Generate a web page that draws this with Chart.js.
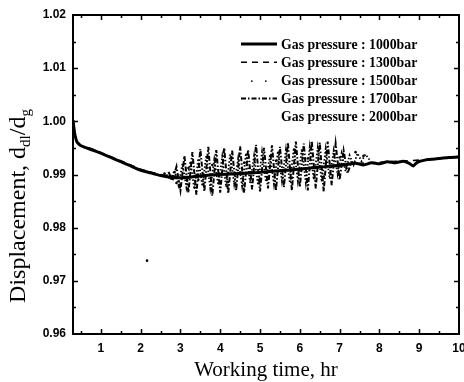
<!DOCTYPE html>
<html><head><meta charset="utf-8">
<script src="https://cdn.jsdelivr.net/npm/chart.js@4.4.1/dist/chart.umd.min.js"></script>
<style>html,body{margin:0;padding:0;background:#fff;}canvas{display:block;}</style>
</head><body>
<canvas id="c" width="464" height="382"></canvas>
<script>
// ---- data ----
const seriesLabels = ['Gas pressure : 1000bar','Gas pressure : 1300bar','Gas pressure : 1500bar','Gas pressure : 1700bar','Gas pressure : 2000bar'];

const x1000 = [0.30,0.32,0.34,0.37,0.40,0.45,0.5,0.6,0.75,0.9,1.0,1.25,1.5,1.75,2.0,2.25,2.5,2.75,3.0,3.25,3.5,3.75,4.0,4.5,5.0,5.5,6.0,6.5,7.0,7.4,7.6,7.8,8.0,8.2,8.4,8.6,8.75,8.85,8.95,9.2,9.4,9.6,9.8,10.0];
const y1000 = [1.0002,0.9990,0.9978,0.9968,0.9961,0.9957,0.9954,0.9951,0.9947,0.9943,0.9940,0.9932,0.9924,0.9916,0.9908,0.9903,0.9898,0.9895,0.9894,0.9895,0.9897,0.9899,0.9900,0.9902,0.9904,0.9907,0.9910,0.9914,0.9917,0.9921,0.9918,0.9922,0.9920,0.9924,0.9922,0.9925,0.9921,0.9916,0.9923,0.9928,0.9929,0.9931,0.9932,0.9933];

const x1300 = [0.30,0.33,0.36,0.40,0.5,0.75,1.0,1.5,2.0,2.5,2.8,3.2,3.6,4.0,4.5,5.0,5.5,6.0,6.5,7.0,7.5,8.0,8.5,9.0,9.5,10.0];
const y1300 = [0.9998,0.9984,0.9972,0.9962,0.9955,0.9949,0.9941,0.9926,0.9910,0.9900,0.9897,0.9896,0.9898,0.9901,0.9903,0.9905,0.9908,0.9911,0.9915,0.9918,0.9921,0.9923,0.9925,0.9927,0.9930,0.9934];

const x1500 = [2.65,2.75,2.85,2.95,3.05,3.15,3.25,3.35,3.45,3.55,3.65,3.75,3.85,3.95,4.05,4.15,4.25,4.35,4.45,4.55,4.65,4.75,4.85,4.95,5.05,5.15,5.25,5.35,5.45,5.55,5.65,5.75,5.85,5.95,6.05,6.15,6.25,6.35,6.45,6.55,6.65,6.75,6.85,6.95,7.05,7.15,7.25,7.35,7.45,7.55,7.65,7.75];
const y1500 = [0.9900,0.9890,0.9908,0.9880,0.9920,0.9876,0.9925,0.9872,0.9930,0.9878,0.9936,0.9874,0.9928,0.9880,0.9934,0.9876,0.9938,0.9882,0.9930,0.9878,0.9940,0.9884,0.9935,0.9880,0.9942,0.9886,0.9938,0.9882,0.9944,0.9888,0.9946,0.9884,0.9950,0.9888,0.9948,0.9885,0.9952,0.9890,0.9950,0.9886,0.9948,0.9892,0.9945,0.9900,0.9940,0.9906,0.9936,0.9918,0.9940,0.9925,0.9938,0.9928];

const x1700 = [2.7,2.8,2.9,3.0,3.1,3.2,3.3,3.4,3.5,3.6,3.7,3.8,3.9,4.0,4.1,4.2,4.3,4.4,4.5,4.6,4.7,4.8,4.9,5.0,5.1,5.2,5.3,5.4,5.5,5.6,5.7,5.8,5.9,6.0,6.1,6.2,6.3,6.4,6.5,6.6,6.7,6.8,6.9,7.0,7.1,7.2,7.3];
const y1700 = [0.9905,0.9888,0.9915,0.9870,0.9935,0.9866,0.9942,0.9862,0.9948,0.9868,0.9952,0.9860,0.9946,0.9866,0.9950,0.9864,0.9945,0.9870,0.9953,0.9866,0.9947,0.9872,0.9956,0.9868,0.9950,0.9874,0.9955,0.9870,0.9952,0.9876,0.9960,0.9870,0.9962,0.9876,0.9958,0.9870,0.9963,0.9874,0.9960,0.9868,0.9962,0.9880,0.9958,0.9890,0.9945,0.9902,0.9925];

const x2000 = [2.6,2.9,3.2,3.45,3.8,4.2,4.6,5.0,5.4,5.8,6.2,6.6,7.0,7.4,7.6,2.16];
const y2000 = [0.9902,0.9884,0.9912,0.9890,0.9918,0.9886,0.9922,0.9892,0.9926,0.9894,0.9930,0.9896,0.9932,0.9942,0.9935,0.9738];

const xTickLabels = [1,2,3,4,5,6,7,8,9,10];
const yTickLabels = [0.96,0.97,0.98,0.99,1.00,1.01,1.02];
const xTickMarks = [0.5,1,1.5,2,2.5,3,3.5,4,4.5,5,5.5,6,6.5,7,7.5,8,8.5,9,9.5];
const yTickMarks = [0.965,0.97,0.975,0.98,0.985,0.99,0.995,1.00,1.005,1.01,1.015];

const xTitle = 'Working time, hr';
const yTitleParts = [['Displacement, d', false], ['dl', true], ['/d', false], ['g', true]];

const pts = (xs, ys) => xs.map((v, i) => ({x: v, y: ys[i]}));

const serif = "'Liberation Serif', 'Times New Roman', serif";
const sans = "'Liberation Sans', Arial, sans-serif";

const framePlugin = {
  id: 'frame',
  afterDatasetsDraw(chart) {
    const {ctx, chartArea: a, scales: {x, y}} = chart;
    ctx.save();
    ctx.strokeStyle = '#000';
    ctx.lineWidth = 2;
    ctx.strokeRect(a.left, a.top, a.right - a.left, a.bottom - a.top);
    ctx.lineWidth = 1.5;
    ctx.beginPath();
    xTickMarks.forEach(v => {
      const px = Math.round(x.getPixelForValue(v)) + 0.5;
      const len = Number.isInteger(v) ? 5 : 3;
      ctx.moveTo(px, a.bottom); ctx.lineTo(px, a.bottom - len);
      ctx.moveTo(px, a.top); ctx.lineTo(px, a.top + len);
    });
    yTickMarks.forEach(v => {
      const py = Math.round(y.getPixelForValue(v)) + 0.5;
      const major = Math.abs(v * 100 - Math.round(v * 100)) < 1e-6;
      const len = major ? 5 : 3;
      ctx.moveTo(a.left, py); ctx.lineTo(a.left + len, py);
      ctx.moveTo(a.right, py); ctx.lineTo(a.right - len, py);
    });
    ctx.stroke();
    ctx.restore();
  }
};

const titlePlugin = {
  id: 'titles',
  afterDraw(chart) {
    const {ctx, chartArea: a} = chart;
    ctx.save();
    ctx.fillStyle = '#000';
    ctx.textBaseline = 'alphabetic';
    // x title
    ctx.font = `21px ${serif}`;
    ctx.textAlign = 'center';
    ctx.fillText(xTitle, (a.left + a.right) / 2, 376);
    // y title with subscripts
    ctx.textAlign = 'left';
    const big = `24px ${serif}`, small = `15px ${serif}`;
    let total = 0;
    yTitleParts.forEach(([t, sub]) => { ctx.font = sub ? small : big; total += ctx.measureText(t).width; });
    ctx.translate(25, 206 + total / 2);
    ctx.rotate(-Math.PI / 2);
    let xx = 0;
    yTitleParts.forEach(([t, sub]) => {
      ctx.font = sub ? small : big;
      ctx.fillText(t, xx, sub ? 5 : 0);
      xx += ctx.measureText(t).width;
    });
    ctx.restore();
  }
};

const legendPlugin = {
  id: 'inLegend',
  afterDraw(chart) {
    const {ctx, chartArea: a} = chart;
    const x0 = a.right - 218, y0 = a.top + 29, rowH = 18.2;
    ctx.save();
    ctx.fillStyle = '#000';
    ctx.strokeStyle = '#000';
    ctx.font = `bold 13.8px ${serif}`;
    ctx.textBaseline = 'middle';
    chart.data.datasets.forEach((ds, i) => {
      const yy = y0 + i * rowH;
      if (ds.legendSample === 'line') {
        ctx.save();
        ctx.lineWidth = Math.min(ds.borderWidth, 3);
        ctx.setLineDash(ds.borderDash || []);
        ctx.beginPath(); ctx.moveTo(x0, yy); ctx.lineTo(x0 + 36, yy); ctx.stroke();
        ctx.restore();
      } else if (ds.legendSample === 'dots') {
        ctx.fillRect(x0 + 10, yy, 1.5, 1.5);
        ctx.fillRect(x0 + 24, yy, 1.5, 1.5);
      }
      ctx.fillText(ds.label, x0 + 40, yy + 1);
    });
    ctx.restore();
  }
};

new Chart(document.getElementById('c'), {
  type: 'line',
  data: {
    datasets: [
      {label: seriesLabels[0], data: pts(x1000, y1000), borderColor: '#000', borderWidth: 3, pointRadius: 0, tension: 0.2, legendSample: 'line'},
      {label: seriesLabels[1], data: pts(x1300, y1300), borderColor: '#000', borderWidth: 1.6, borderDash: [6, 5], pointRadius: 0, tension: 0.2, legendSample: 'line'},
      {label: seriesLabels[2], data: pts(x1500, y1500), borderColor: '#000', borderWidth: 1.8, borderDash: [1.5, 2], pointRadius: 0, legendSample: 'dots'},
      {label: seriesLabels[3], data: pts(x1700, y1700), borderColor: '#000', borderWidth: 2, borderDash: [5, 2, 1.5, 2], pointRadius: 0, legendSample: 'line'},
      {label: seriesLabels[4], data: pts(x2000, y2000), borderColor: '#000', backgroundColor: '#000', showLine: false, pointRadius: 1.3, borderWidth: 0, legendSample: 'none'}
    ]
  },
  options: {
    responsive: false, animation: false, devicePixelRatio: 1,
    layout: {padding: {top: 15, right: 5, left: 0, bottom: 0}},
    plugins: {legend: {display: false}, tooltip: {enabled: false}},
    scales: {
      x: {
        type: 'linear', min: 0.3, max: 10,
        grid: {display: false, drawTicks: false}, border: {display: false},
        ticks: {color: '#000', font: {family: sans, size: 12, weight: 'bold'}, padding: 7, maxRotation: 0, autoSkip: false, callback: v => String(v)},
        afterBuildTicks: s => { s.ticks = xTickLabels.map(v => ({value: v})); },
        afterFit: s => { s.height = 48; s.paddingLeft = 0; s.paddingRight = 0; }
      },
      y: {
        type: 'linear', min: 0.96, max: 1.02,
        grid: {display: false, drawTicks: false}, border: {display: false},
        ticks: {color: '#000', font: {family: sans, size: 12, weight: 'bold'}, padding: 7, autoSkip: false, callback: v => Number(v).toFixed(2)},
        afterBuildTicks: s => { s.ticks = yTickLabels.map(v => ({value: v})); },
        afterFit: s => { s.width = 73; s.paddingTop = 0; s.paddingBottom = 0; }
      }
    }
  },
  plugins: [framePlugin, titlePlugin, legendPlugin]
});
</script>
</body></html>
